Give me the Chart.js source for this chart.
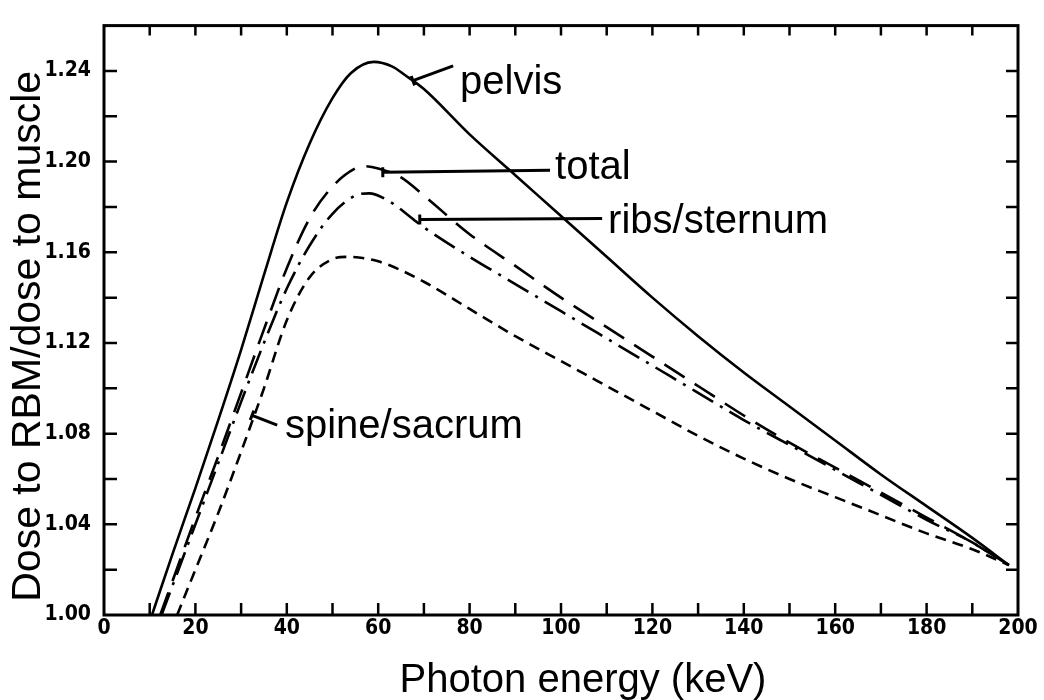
<!DOCTYPE html>
<html>
<head>
<meta charset="utf-8">
<title>Dose to RBM / dose to muscle</title>
<script src="https://cdn.jsdelivr.net/npm/chart.js@4.4.1/dist/chart.umd.min.js"></script>
<style>
  html, body { margin: 0; padding: 0; background: #fff; }
  #chart { display: block; }
</style>
</head>
<body>
<canvas id="chart" width="1044" height="700"></canvas>
<script>
// photon energy (keV) and dose ratio for each bone site
const pelvisKeV   = [10.5, 15, 20, 25, 30, 35, 40, 45, 50, 54, 59, 63, 66, 70, 80, 90, 100, 110, 120, 130, 140, 150, 160, 170, 180, 190, 198];
const pelvisRatio = [1.000, 1.027, 1.056, 1.086, 1.117, 1.150, 1.182, 1.208, 1.228, 1.239, 1.244, 1.242, 1.238, 1.232, 1.212, 1.194, 1.176, 1.158, 1.140, 1.123, 1.107, 1.092, 1.077, 1.062, 1.048, 1.034, 1.022];

const totalKeV   = [12.3, 15, 20, 25, 30, 35, 40, 45, 50, 55, 57, 60, 65, 70, 80, 90, 100, 110, 120, 130, 140, 150, 160, 170, 180, 190, 198];
const totalRatio = [1.000, 1.015, 1.043, 1.070, 1.098, 1.126, 1.153, 1.175, 1.189, 1.197, 1.198, 1.197, 1.193, 1.185, 1.168, 1.154, 1.140, 1.127, 1.114, 1.101, 1.088, 1.076, 1.065, 1.054, 1.043, 1.032, 1.022];

const ribsKeV   = [12.6, 15, 20, 25, 30, 35, 40, 45, 50, 55, 58, 62, 70, 80, 90, 100, 110, 120, 130, 140, 150, 160, 170, 180, 190, 198];
const ribsRatio = [1.000, 1.013, 1.040, 1.067, 1.094, 1.120, 1.144, 1.163, 1.177, 1.185, 1.186, 1.183, 1.171, 1.158, 1.146, 1.134, 1.122, 1.110, 1.098, 1.086, 1.075, 1.064, 1.053, 1.042, 1.032, 1.022];

const spineKeV   = [16, 20, 25, 30, 35, 40, 45, 50, 53, 60, 70, 80, 90, 100, 110, 120, 130, 140, 150, 160, 170, 180, 190, 198];
const spineRatio = [1.000, 1.020, 1.045, 1.072, 1.100, 1.130, 1.149, 1.157, 1.158, 1.156, 1.147, 1.135, 1.123, 1.112, 1.101, 1.090, 1.079, 1.069, 1.060, 1.052, 1.044, 1.036, 1.029, 1.022];

// callout text, where it sits (keV, ratio) and the leader line to its curve
const calloutText  = ['pelvis', 'total', 'ribs/sternum', 'spine/sacrum'];
const calloutAt    = [[77.9, 1.2300], [98.7, 1.1923], [110.3, 1.1684], [39.6, 1.0781]];
const leaderFrom   = [[67.6, 1.2357], [61.0, 1.1953], [69.1, 1.1745], [32.4, 1.0881]];
const leaderTo     = [[76.4, 1.2422], [97.6, 1.1962], [109.0, 1.1749], [37.9, 1.0838]];

const xTitle = 'Photon energy (keV)';
const yTitle = 'Dose to RBM/dose to muscle';

const toPoints = (xs, ys) => xs.map((x, i) => ({ x: x, y: ys[i] }));

const textFont = '"Liberation Sans", Arial, sans-serif';
const tickFont = '"Liberation Sans Narrow", "DejaVu Sans Condensed", "DejaVu Sans", sans-serif';

// box around the plot with inward tick marks on all four sides
const frame = {
  id: 'frame',
  afterDraw(chart) {
    const { ctx, chartArea: a, scales: { x, y } } = chart;
    ctx.save();
    ctx.strokeStyle = '#000';
    ctx.lineWidth = 3;
    ctx.strokeRect(a.left, a.top, a.right - a.left, a.bottom - a.top);
    ctx.lineWidth = 2.5;
    ctx.beginPath();
    x.ticks.forEach(t => {
      if (t.value <= x.min || t.value >= x.max) return;
      const px = x.getPixelForValue(t.value);
      ctx.moveTo(px, a.bottom); ctx.lineTo(px, a.bottom - 12);
      ctx.moveTo(px, a.top); ctx.lineTo(px, a.top + 10);
    });
    y.ticks.forEach(t => {
      if (t.value <= y.min + 1e-9 || t.value >= y.max - 1e-9) return;
      const py = y.getPixelForValue(t.value);
      ctx.moveTo(a.left, py); ctx.lineTo(a.left + 13, py);
      ctx.moveTo(a.right, py); ctx.lineTo(a.right - 12, py);
    });
    ctx.stroke();
    ctx.restore();
  }
};

// curve labels with their leader lines, plus the two axis titles
const callouts = {
  id: 'callouts',
  afterDraw(chart) {
    const { ctx, chartArea: a, scales: { x, y } } = chart;
    ctx.save();
    ctx.strokeStyle = '#000';
    ctx.fillStyle = '#000';
    ctx.lineWidth = 3;
    ctx.lineCap = 'butt';
    calloutText.forEach((txt, i) => {
      const x0 = x.getPixelForValue(leaderFrom[i][0]);
      const y0 = y.getPixelForValue(leaderFrom[i][1]);
      const x1 = x.getPixelForValue(leaderTo[i][0]);
      const y1 = y.getPixelForValue(leaderTo[i][1]);
      ctx.beginPath();
      ctx.moveTo(x0, y0); ctx.lineTo(x1, y1);
      // short cross bar where the leader meets the curve
      const len = Math.hypot(x1 - x0, y1 - y0);
      const nx = -(y1 - y0) / len * 5, ny = (x1 - x0) / len * 5;
      ctx.moveTo(x0 - nx, y0 - ny); ctx.lineTo(x0 + nx, y0 + ny);
      ctx.stroke();
      ctx.font = '40px ' + textFont;
      ctx.textAlign = 'left';
      ctx.textBaseline = 'alphabetic';
      ctx.fillText(txt, x.getPixelForValue(calloutAt[i][0]), y.getPixelForValue(calloutAt[i][1]));
    });

    ctx.font = '40px ' + textFont;
    ctx.textAlign = 'center';
    ctx.textBaseline = 'alphabetic';
    ctx.fillText(xTitle, (a.left + a.right) / 2 + 22, a.bottom + 77);

    ctx.translate(40, (a.top + a.bottom) / 2 + 16);
    ctx.rotate(-Math.PI / 2);
    ctx.font = '41px ' + textFont;
    ctx.fillText(yTitle, 0, 0);
    ctx.restore();
  }
};

const line = (label, xs, ys, dash) => ({
  label: label,
  data: toPoints(xs, ys),
  borderColor: '#000',
  borderWidth: 2.6,
  borderDash: dash,
  pointRadius: 0,
  fill: false,
  cubicInterpolationMode: 'monotone'
});

new Chart(document.getElementById('chart'), {
  type: 'line',
  data: {
    datasets: [
      line('pelvis', pelvisKeV, pelvisRatio, []),
      line('total', totalKeV, totalRatio, [24, 12]),
      line('ribs/sternum', ribsKeV, ribsRatio, [24, 8, 3, 8]),
      line('spine/sacrum', spineKeV, spineRatio, [11, 7])
    ]
  },
  options: {
    responsive: false,
    animation: false,
    layout: { padding: { left: 0, right: 26, top: 15, bottom: 0 } },
    plugins: { legend: { display: false }, tooltip: { enabled: false } },
    scales: {
      x: {
        type: 'linear',
        min: 0,
        max: 200,
        grid: { display: false, drawTicks: false },
        border: { display: false },
        ticks: {
          stepSize: 10,
          autoSkip: false,
          maxRotation: 0,
          padding: 1,
          color: '#000',
          font: { family: tickFont, size: 21, weight: 'bold' },
          callback: v => (v % 20 === 0 ? String(v) : '')
        },
        afterFit: s => { s.height = 85; }
      },
      y: {
        min: 1.0,
        max: 1.26,
        grid: { display: false, drawTicks: false },
        border: { display: false },
        ticks: {
          stepSize: 0.02,
          autoSkip: false,
          padding: 13,
          color: '#000',
          font: { family: tickFont, size: 21, weight: 'bold' },
          callback: (v, i) => (i % 2 === 0 ? v.toFixed(2) : '')
        },
        afterFit: s => { s.width = 104; }
      }
    }
  },
  plugins: [frame, callouts]
});
</script>
</body>
</html>
